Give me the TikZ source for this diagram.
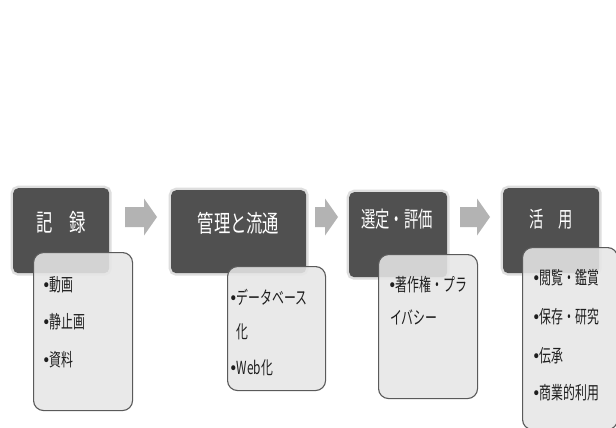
\documentclass[tikz,border=0pt]{standalone}
\usepackage{fontspec}
\newfontfamily\jpbody[FakeStretch=0.66]{Noto Sans CJK JP}
\newfontfamily\jptitle[FakeStretch=0.68]{Noto Sans CJK JP}
\newfontfamily\jptitleb[FakeStretch=0.65]{Noto Sans CJK JP}
\newfontfamily\bulfont[FakeStretch=0.85]{DejaVu Sans}
\newcommand\bul{{\bulfont\fontsize{17}{17}\selectfont •}\kern-1pt}
\definecolor{darkfill}{HTML}{505050}
\definecolor{lightfill}{HTML}{E6E6E6}
\definecolor{lightedge}{HTML}{5A5A5A}
\definecolor{arrowfill}{HTML}{B3B3B3}
\definecolor{halo}{HTML}{DEDEDE}
\definecolor{bodyink}{HTML}{1E1E1E}
\tikzset{
  darkbox/.style={preaction={draw=halo, line width=5pt}, fill=darkfill,
    rounded corners=5pt, inner sep=0pt, anchor=north west},
  lightbox/.style={fill=lightfill, fill opacity=0.88, draw=lightedge,
    draw opacity=1, line width=1.1pt, rounded corners=10pt, inner sep=0pt,
    anchor=north west},
  titletext/.style={text=white, font=\jptitle\fontsize{24}{24}\selectfont, inner sep=0pt},
  titletextb/.style={text=white, font=\jptitleb\fontsize{22}{22}\selectfont, inner sep=0pt},
  bodytext/.style={text=bodyink, font=\jpbody\fontsize{18}{18}\selectfont,
    inner sep=0pt, anchor=west},
  blockarrow/.style={fill=arrowfill}
}
\begin{document}
\begin{tikzpicture}[x=1pt,y=-1pt]
\useasboundingbox (0,0) rectangle (616,428);
\fill[white] (0,0) rectangle (616,428);

% dark step boxes
\node[darkbox, minimum width=96pt, minimum height=85pt] (d1) at (13,188) {};
\node[darkbox, minimum width=135pt, minimum height=83pt] (d2) at (171,190) {};
\node[darkbox, minimum width=98pt, minimum height=85pt] (d3) at (349,192) {};
\node[darkbox, minimum width=96pt, minimum height=85pt] (d4) at (503,188) {};

% titles
\node[titletext] (t1) at (61,222) {記　録};
\node[titletext] (t2) at (238.5,223) {管理と流通};
\node[titletextb] (t3) at (397,219) {選定・評価};
\node[titletextb] (t4) at (551,219) {活　用};

% block arrows
\fill[blockarrow] (125,207) -- (144,207) -- (144,198.5) -- (157,217) -- (144,235.5) -- (144,227) -- (125,227) -- cycle;
\fill[blockarrow] (315,207) -- (325,207) -- (325,198.5) -- (338,217) -- (325,235.5) -- (325,227) -- (315,227) -- cycle;
\fill[blockarrow] (460,207) -- (477,207) -- (477,198.5) -- (490,217) -- (477,235.5) -- (477,227) -- (460,227) -- cycle;

% light detail boxes
\node[lightbox, minimum width=99pt, minimum height=158pt] (l1) at (33,252) {};
\node[lightbox, minimum width=98pt, minimum height=124pt] (l2) at (227,266) {};
\node[lightbox, minimum width=99pt, minimum height=144pt] (l3) at (378,254) {};
\node[lightbox, minimum width=95pt, minimum height=182pt] (l4) at (522,247) {};

% body texts
\node[bodytext] (b11) at (42,285) {\bul 動画};
\node[bodytext] (b12) at (42,322) {\bul 静止画};
\node[bodytext] (b13) at (42,360) {\bul 資料};

\node[bodytext] (b21) at (229,297) {\bul データベース};
\node[bodytext] (b22) at (229,332) {\phantom{\bul}化};
\node[bodytext] (b23) at (229,368) {\bul Web化};

\node[bodytext] (b31) at (388,285) {\bul 著作権・プラ};
\node[bodytext] (b32) at (390,317) {イバシー};

\node[bodytext] (b41) at (532,278) {\bul 閲覧・鑑賞};
\node[bodytext] (b42) at (532,317) {\bul 保存・研究};
\node[bodytext] (b43) at (532,356) {\bul 伝承};
\node[bodytext] (b44) at (532,393) {\bul 商業的利用};
\end{tikzpicture}
\end{document}
